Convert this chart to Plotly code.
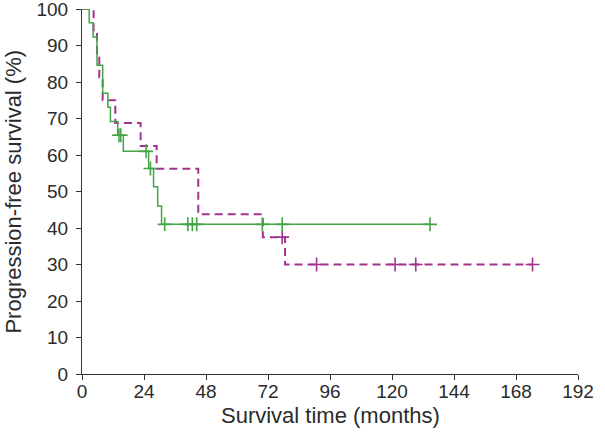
import plotly.graph_objects as go

# Group A (green, solid)
green_times = [0, 2.8, 4.3, 5.8, 8.0, 10.0, 11.0, 13.8, 16.0, 25.8, 27.7, 29.3, 30.8, 134.7]
green_surv = [100, 96.2, 92.3, 84.6, 76.9, 73.1, 69.2, 65.4, 61.0, 56.3, 51.3, 46.0, 41.0, 41.0]
green_cens_t = [14.3, 15.0, 24.8, 26.5, 32.0, 41.0, 42.7, 44.4, 69.8, 77.5, 134.7]
green_cens_s = [65.4, 65.4, 61.0, 56.3, 41.0, 41.0, 41.0, 41.0, 41.0, 41.0, 41.0]

# Group B (magenta, dashed)
mag_times = [0, 4.5, 5.8, 6.7, 8.0, 12.9, 22.7, 28.9, 45.0, 70.0, 78.6, 174.4]
mag_surv = [100, 93.75, 87.5, 81.25, 75.0, 68.75, 62.5, 56.25, 43.75, 37.5, 30.0, 30.0]
mag_cens_t = [77.5, 90.8, 121.2, 129.2, 174.4]
mag_cens_s = [37.5, 30.0, 30.0, 30.0, 30.0]

x_ticks = [0, 24, 48, 72, 96, 120, 144, 168, 192]
y_ticks = [0, 10, 20, 30, 40, 50, 60, 70, 80, 90, 100]
x_title = "Survival time (months)"
y_title = "Progression-free survival (%)"

GREEN = "#45a445"
MAG = "#a3338f"
FONT = "Liberation Sans, Arial, sans-serif"
TXT = "#2b2b2b"

fig = go.Figure()
fig.add_trace(go.Scatter(x=mag_times, y=mag_surv, mode="lines", line_shape="hv",
                         line=dict(color=MAG, width=2, dash="8px,5px"), hoverinfo="skip"))
fig.add_trace(go.Scatter(x=mag_cens_t, y=mag_cens_s, mode="markers",
                         marker=dict(symbol="cross-thin", size=10, line=dict(color=MAG, width=1.6))))
fig.add_trace(go.Scatter(x=green_times, y=green_surv, mode="lines", line_shape="hv",
                         line=dict(color=GREEN, width=1.5), hoverinfo="skip"))
fig.add_trace(go.Scatter(x=green_cens_t, y=green_cens_s, mode="markers",
                         marker=dict(symbol="cross-thin", size=10, line=dict(color=GREEN, width=1.6))))

axis_common = dict(showgrid=False, zeroline=False, showline=True, linecolor="#333333", linewidth=1.2,
                   ticks="outside", ticklen=5, tickwidth=1.2, tickcolor="#333333",
                   automargin=False, ticklabeloverflow="allow",
                   tickfont=dict(family=FONT, size=19, color=TXT))

fig.update_layout(
    width=605, height=446,
    margin=dict(l=82, r=27, t=8.5, b=71.5),
    paper_bgcolor="white", plot_bgcolor="white",
    showlegend=False,
    font=dict(family=FONT, size=19, color=TXT),
    xaxis=dict(range=[0, 192], tickvals=x_ticks, ticktext=[str(v) for v in x_ticks],
               ticklabelstandoff=-5, **axis_common),
    yaxis=dict(range=[0, 100], tickvals=y_ticks, ticktext=[str(v) for v in y_ticks],
               ticklabelstandoff=4, **axis_common),
    annotations=[
        dict(text=x_title, xref="paper", yref="paper", x=0.5, y=-0.113, xanchor="center", yanchor="middle",
             showarrow=False, font=dict(family=FONT, size=22, color=TXT)),
        dict(text=y_title, xref="paper", yref="paper", x=-0.139, y=0.5, xanchor="center", yanchor="middle",
             textangle=-90, showarrow=False, font=dict(family=FONT, size=22, color=TXT)),
    ],
)

fig.write_html("out.html", config={"displayModeBar": False},
               post_script="document.body.style.margin='0px';")
